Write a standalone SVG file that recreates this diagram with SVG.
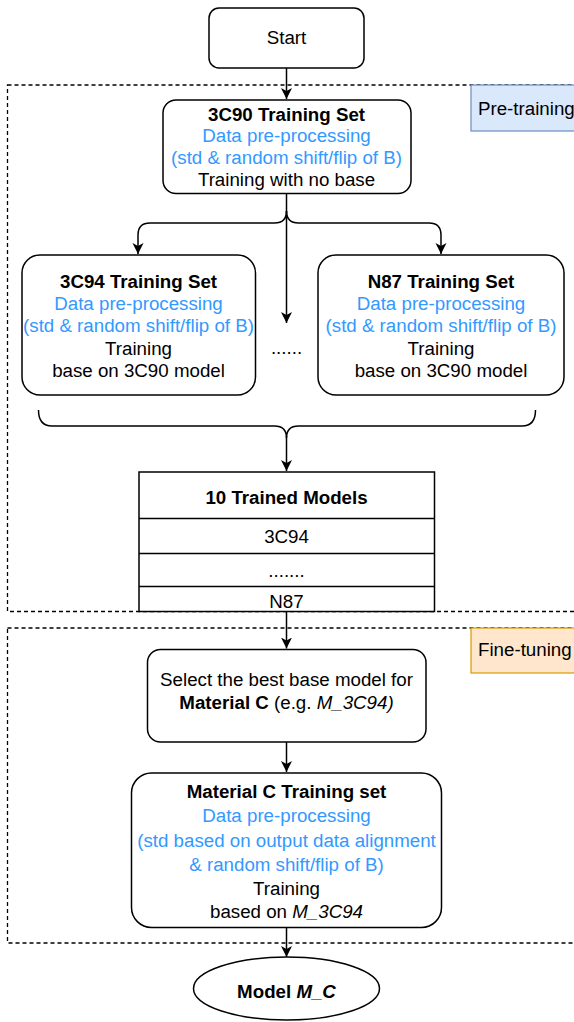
<svg xmlns="http://www.w3.org/2000/svg" width="574" height="1022" viewBox="0 0 574 1022">
<style>
  text { font-family: "Liberation Sans", Arial, Helvetica, sans-serif; font-size: 18px; fill: #000; }
  .m { text-anchor: middle; }
  .b { font-weight: bold; }
  .i { font-style: italic; }
  .blue { fill: #3399ff; }
  .box { fill: #fff; stroke: #000; stroke-width: 1.5; }
  .dash { fill: none; stroke: #000; stroke-width: 1.3; stroke-dasharray: 4 3; }
  .conn { fill: none; stroke: #000; stroke-width: 1.5; }
</style>
<defs>
  <marker id="arr" markerUnits="userSpaceOnUse" markerWidth="12" markerHeight="12" refX="11" refY="5.5" orient="auto">
    <path d="M0,0 L11,5.5 L0,11 L3,5.5 z" fill="#000"/>
  </marker>
</defs>

<g id="pretraining-group">
  <rect class="dash" x="7.5" y="85" width="580" height="526.5"/>
  <rect x="471" y="85" width="110" height="46" fill="#dae8fc" stroke="#6c8ebf" stroke-width="1.2"/>
  <text transform="translate(478,114.5) scale(1.04,1)">Pre-training</text>
</g>

<g id="finetuning-group">
  <rect class="dash" x="7.5" y="628" width="580" height="315"/>
  <rect x="471" y="628" width="110" height="45" fill="#ffe6cc" stroke="#d79b00" stroke-width="1.2"/>
  <text transform="translate(478,656) scale(1.04,1)">Fine-tuning</text>
</g>

<g id="connectors">
  <path class="conn" d="M286.5,68 L286.5,99" marker-end="url(#arr)"/>
  <path class="conn" d="M286.5,194 L286.5,323" marker-end="url(#arr)"/>
  <path class="conn" d="M286.5,211 Q286.5,223 274.5,223 L150,223 Q138,223 138,235 L138,254" marker-end="url(#arr)"/>
  <path class="conn" d="M286.5,211 Q286.5,223 298.5,223 L429,223 Q441,223 441,235 L441,254" marker-end="url(#arr)"/>
  <path class="conn" d="M38.5,410 Q38.5,426 52,426 L274.5,426 Q286.5,426 286.5,438 Q286.5,426 298.5,426 L522,426 Q535.5,426 535.5,410"/>
  <path class="conn" d="M286.5,436 L286.5,471" marker-end="url(#arr)"/>
  <path class="conn" d="M286.5,612 L286.5,648.5" marker-end="url(#arr)"/>
  <path class="conn" d="M286.5,742 L286.5,772" marker-end="url(#arr)"/>
  <path class="conn" d="M286.5,927.5 L286.5,957" marker-end="url(#arr)"/>
</g>

<g id="start">
  <rect class="box" x="209" y="8" width="155" height="60" rx="10"/>
  <text class="m" transform="translate(286.5,44) scale(1.04,1)">Start</text>
</g>

<g id="set-3c90">
  <rect class="box" x="163" y="100" width="248" height="93.5" rx="13"/>
  <text class="m b" transform="translate(286.5,120.5) scale(1.04,1)">3C90 Training Set</text>
  <text class="m blue" transform="translate(286.5,142) scale(1.04,1)">Data pre-processing</text>
  <text class="m blue" transform="translate(286.5,164) scale(1.04,1)">(std &amp; random shift/flip of B)</text>
  <text class="m" transform="translate(286.5,185.5) scale(1.04,1)">Training with no base</text>
</g>

<g id="set-3c94">
  <rect class="box" x="22" y="255" width="233.5" height="140" rx="18"/>
  <text class="m b" transform="translate(138.5,287.5) scale(1.04,1)">3C94 Training Set</text>
  <text class="m blue" transform="translate(138.5,309.5) scale(1.04,1)">Data pre-processing</text>
  <text class="m blue" transform="translate(138.5,332) scale(1.04,1)">(std &amp; random shift/flip of B)</text>
  <text class="m" transform="translate(138.5,354.5) scale(1.04,1)">Training</text>
  <text class="m" transform="translate(138.5,376.5) scale(1.04,1)">base on 3C90 model</text>
</g>

<g id="ellipsis">
  <text class="m" transform="translate(286.5,353.5) scale(1.04,1)">......</text>
</g>

<g id="set-n87">
  <rect class="box" x="318" y="255" width="246" height="140" rx="18"/>
  <text class="m b" transform="translate(441,287.5) scale(1.04,1)">N87 Training Set</text>
  <text class="m blue" transform="translate(441,309.5) scale(1.04,1)">Data pre-processing</text>
  <text class="m blue" transform="translate(441,332) scale(1.04,1)">(std &amp; random shift/flip of B)</text>
  <text class="m" transform="translate(441,354.5) scale(1.04,1)">Training</text>
  <text class="m" transform="translate(441,376.5) scale(1.04,1)">base on 3C90 model</text>
</g>

<g id="trained-models">
  <rect class="box" x="139" y="472" width="295.5" height="139.5"/>
  <line class="conn" x1="139" y1="518.5" x2="434.5" y2="518.5"/>
  <line class="conn" x1="139" y1="553.5" x2="434.5" y2="553.5"/>
  <line class="conn" x1="139" y1="586.5" x2="434.5" y2="586.5"/>
  <text class="m b" transform="translate(286.5,503.5) scale(1.04,1)">10 Trained Models</text>
  <text class="m" transform="translate(286.5,543) scale(1.04,1)">3C94</text>
  <text class="m" transform="translate(286.5,576.5) scale(1.04,1)">.......</text>
  <text class="m" transform="translate(286.5,608) scale(1.04,1)">N87</text>
</g>

<g id="select-base">
  <rect class="box" x="147.5" y="649.5" width="278.5" height="92.5" rx="13"/>
  <text class="m" transform="translate(286.5,685.5) scale(1.04,1)">Select the best base model for</text>
  <text class="m" transform="translate(286.5,709) scale(1.04,1)"><tspan class="b">Material C</tspan> (e.g. <tspan class="i">M_3C94)</tspan></text>
</g>

<g id="material-c">
  <rect class="box" x="131.5" y="773" width="310" height="154.5" rx="20"/>
  <text class="m b" transform="translate(286.5,797.5) scale(1.04,1)">Material C Training set</text>
  <text class="m blue" transform="translate(286.5,822) scale(1.04,1)">Data pre-processing</text>
  <text class="m blue" transform="translate(286.5,846.5) scale(1.04,1)">(std based on output data alignment</text>
  <text class="m blue" transform="translate(286.5,870.5) scale(1.04,1)">&amp; random shift/flip of B)</text>
  <text class="m" transform="translate(286.5,894.5) scale(1.04,1)">Training</text>
  <text class="m" transform="translate(286.5,918) scale(1.04,1)">based on <tspan class="i">M_3C94</tspan></text>
</g>

<g id="model-mc">
  <ellipse class="box" cx="286.5" cy="988.5" rx="93" ry="31.5"/>
  <text class="m b" transform="translate(286.5,997.5) scale(1.04,1)">Model <tspan class="i">M_C</tspan></text>
</g>
</svg>
